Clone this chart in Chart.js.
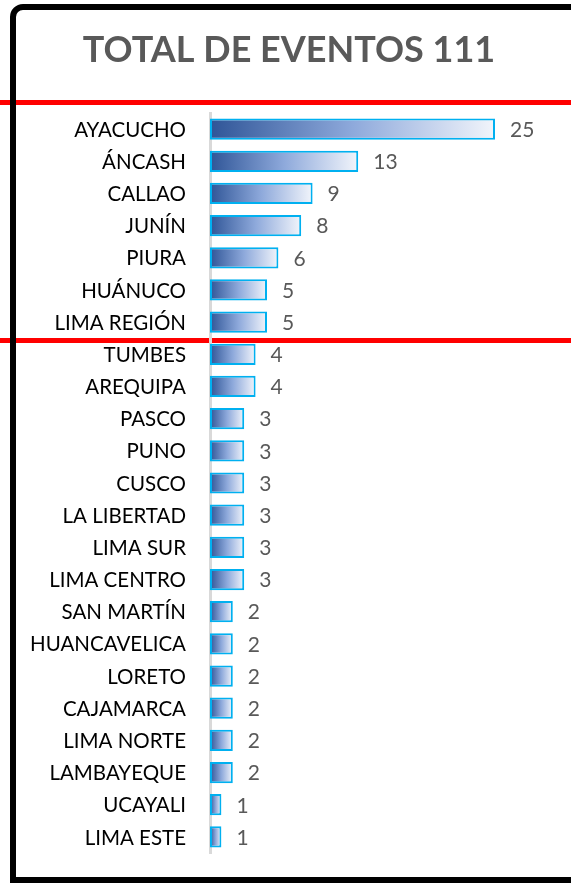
<!DOCTYPE html>
<html><head><meta charset="utf-8">
<script src="https://cdn.jsdelivr.net/npm/chart.js@4"></script>
<style>html,body{margin:0;padding:0;background:#fff;}#wrap{width:571px;height:884px;position:relative;}</style>
</head><body><div id="wrap"><canvas id="c" width="571" height="884"></canvas></div>
<script>
const title = 'TOTAL DE EVENTOS 111';
const categories = ['AYACUCHO','ÁNCASH','CALLAO','JUNÍN','PIURA','HUÁNUCO','LIMA REGIÓN','TUMBES','AREQUIPA','PASCO','PUNO','CUSCO','LA LIBERTAD','LIMA SUR','LIMA CENTRO','SAN MARTÍN','HUANCAVELICA','LORETO','CAJAMARCA','LIMA NORTE','LAMBAYEQUE','UCAYALI','LIMA ESTE'];
const eventos = [25,13,9,8,6,5,5,4,4,3,3,3,3,3,3,2,2,2,2,2,2,1,1];

const FONT = 'Lato, "Open Sans", sans-serif';

const decor = {
  id: 'decor',
  beforeDraw(chart) {
    const c = chart.ctx;
    c.save();
    c.fillStyle = '#fff';
    c.fillRect(0, 0, chart.width, chart.height);
    c.fillStyle = '#FF0000';
    c.fillRect(0, 100, chart.width, 5);
    c.fillRect(0, 338, chart.width, 5);
    c.strokeStyle = '#000';
    c.lineWidth = 6;
    c.beginPath();
    const l = 13, t = 7, r = chart.width + 20, b = 880, rad = 10;
    c.moveTo(r, t);
    c.lineTo(l + rad, t);
    c.arcTo(l, t, l, t + rad, rad);
    c.lineTo(l, b);
    c.lineTo(r, b);
    c.stroke();
    c.fillStyle = '#595959';
    c.font = 'bold 36px ' + FONT;
    c.textAlign = 'center';
    c.textBaseline = 'middle';
    c.fillText(title, 289, 50);
    c.restore();
  },
  afterDatasetsDraw(chart) {
    const c = chart.ctx;
    const meta = chart.getDatasetMeta(0);
    c.save();
    c.fillStyle = '#595959';
    c.font = '21px ' + FONT;
    c.textAlign = 'left';
    c.textBaseline = 'middle';
    meta.data.forEach((el, i) => {
      c.fillText(String(eventos[i]), el.x + 15, el.y + 1);
    });
    c.restore();
  }
};

function barGradient(ctx) {
  const chart = ctx.chart;
  const xs = chart.scales && chart.scales.x;
  if (!xs || !ctx.parsed) return '#8FAADC';
  const x0 = xs.getPixelForValue(0);
  const x1 = xs.getPixelForValue(ctx.parsed.x);
  if (!isFinite(x0) || !isFinite(x1) || x1 <= x0) return '#8FAADC';
  const g = chart.ctx.createLinearGradient(x0, 0, x1, 0);
  g.addColorStop(0, '#2F5597');
  g.addColorStop(0.5, '#8EA9DB');
  g.addColorStop(1, '#F2F5FB');
  return g;
}

new Chart(document.getElementById('c'), {
  type: 'bar',
  data: {
    labels: categories,
    datasets: [{
      data: eventos,
      backgroundColor: barGradient,
      borderColor: '#00B0F0',
      borderWidth: 2,
      borderSkipped: false,
      barPercentage: 0.66,
      categoryPercentage: 1
    }]
  },
  options: {
    indexAxis: 'y',
    responsive: false,
    animation: false,
    layout: { padding: { top: 113, bottom: 31, left: 0, right: 19 } },
    plugins: { legend: { display: false }, tooltip: { enabled: false } },
    scales: {
      x: { display: false, min: 0, max: 30 },
      y: {
        afterFit(s) { s.width = 210; s.paddingTop = 0; s.paddingBottom = 0; },
        grid: { display: false, drawTicks: false },
        border: { display: true, color: '#D9D9D9', width: 3 },
        ticks: { color: '#000', font: { family: FONT, size: 20.5 }, padding: 24, labelOffset: 1 }
      }
    }
  },
  plugins: [decor]
});
</script>
</body></html>
